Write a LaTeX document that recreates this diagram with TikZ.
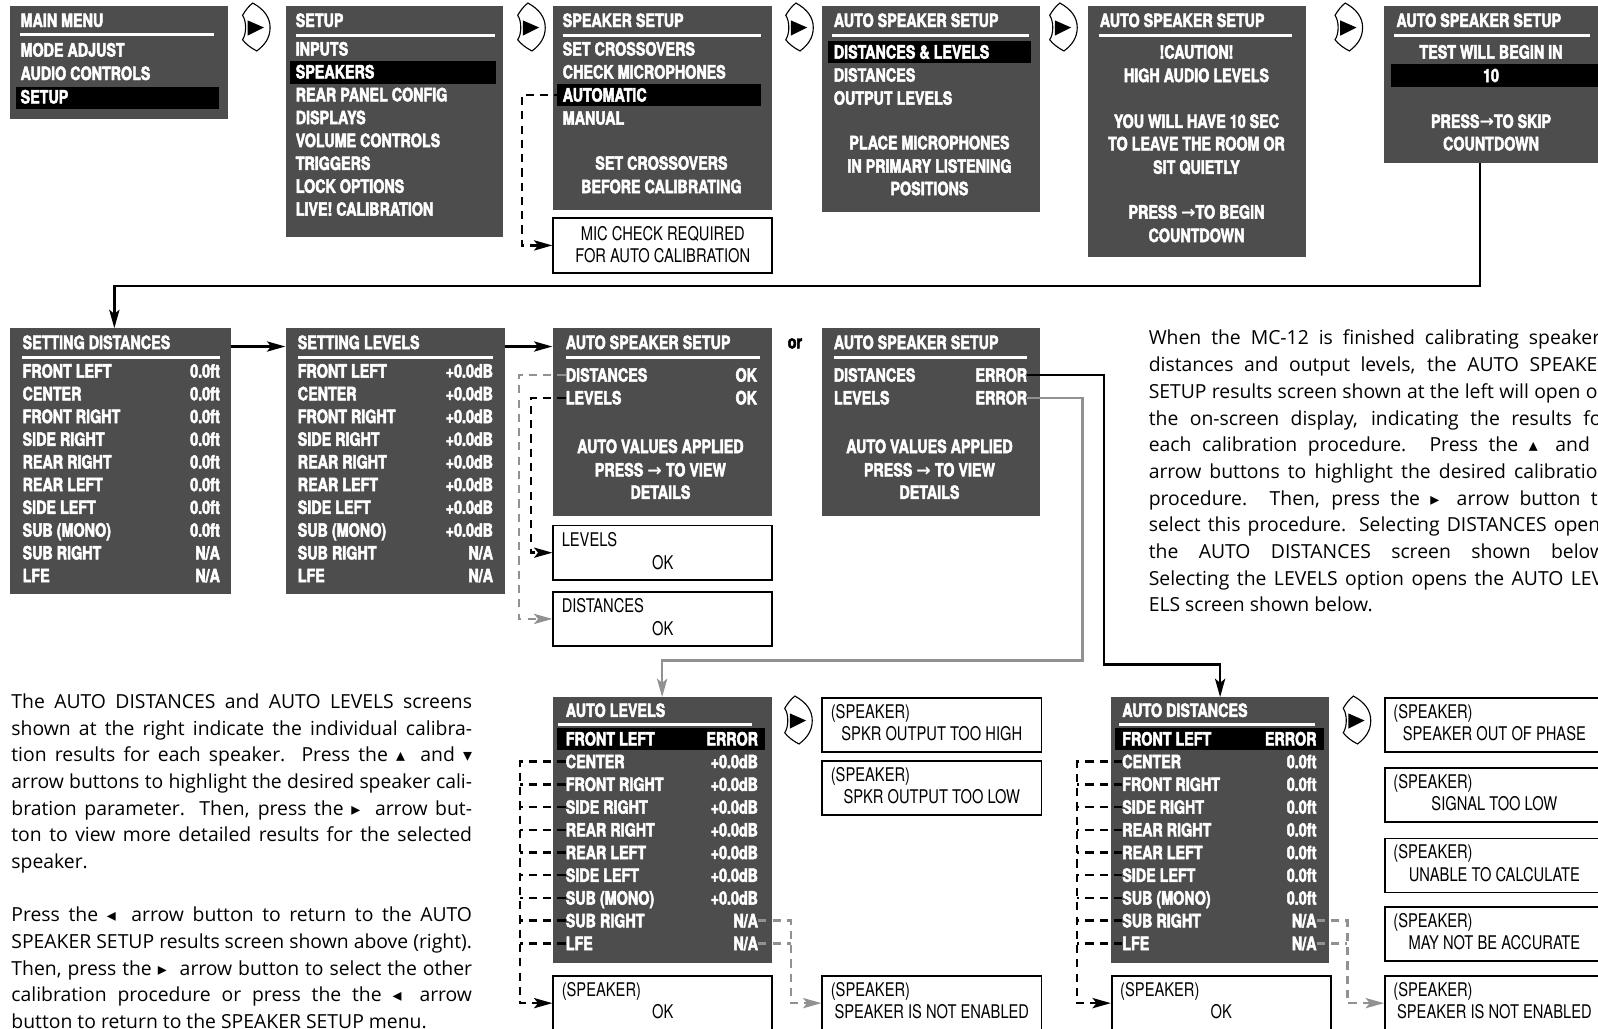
\documentclass[tikz,border=0pt]{standalone}
\usepackage{fontspec}
\setmainfont{Open Sans}
\newfontfamily\heroscn[FakeStretch=0.78,BoldFeatures={FakeBold=2.6}]{TeX Gyre Heros}
\newfontfamily\trifont{DejaVu Sans}
\usetikzlibrary{positioning,arrows.meta}
\definecolor{scrgray}{RGB}{77,77,77}
\definecolor{lnkgray}{RGB}{145,145,145}
\newcommand{\upkey}{{\trifont\fontsize{17.5}{17.5}\selectfont ▴}}
\newcommand{\dnkey}{{\trifont\fontsize{17.5}{17.5}\selectfont ▾}}
\newcommand{\rtkey}{{\trifont\fontsize{17.5}{17.5}\selectfont ▸}}
\newcommand{\ltkey}{{\trifont\fontsize{17.5}{17.5}\selectfont ◂}}
\newcommand{\rarr}{{\trifont\fontsize{17}{17}\selectfont →}}
\newcommand{\spkrows}{FRONT LEFT, CENTER, FRONT RIGHT, SIDE RIGHT, REAR RIGHT, REAR LEFT, SIDE LEFT, SUB (MONO), SUB RIGHT, LFE}

\tikzset{navkey/.pic={
    \draw[line width=1.1pt, fill=white] (-3,-24) .. controls (8,-18) and (14,-10) .. (14,0)
      .. controls (14,10) and (9,17) .. (1,23)
      .. controls (-5,20) and (-10,16) .. (-13,12)
      .. controls (-9,6) and (-9,-6) .. (-13,-12)
      .. controls (-10,-17) and (-7,-21) .. (-3,-24) -- cycle;
    \fill (-8,-7) -- (-8,8) -- (8,0) -- cycle;
}}

\begin{document}
\begin{tikzpicture}[x=1pt, y=-1pt,
        screen/.style={fill=scrgray, inner sep=0, anchor=north west},
        msgbox/.style={draw, line width=1.6pt, fill=white, inner sep=0, anchor=north west,
                    minimum width=215pt, minimum height=53pt},
        stxt/.style={text=white, inner sep=0, font=\heroscn\bfseries\fontsize{18}{20}\selectfont,
                    text height=13pt, text depth=0pt},
        sitem/.style={stxt, anchor=west},
        sval/.style={stxt, anchor=east},
        mtxt/.style={inner sep=0, font=\heroscn\fontsize{18.5}{20}\selectfont,
                    text height=13.3pt, text depth=0pt},
        body/.style={inner sep=0, anchor=base west, font=\fontsize{19}{26}\selectfont},
        srule/.style={white, line width=2.5pt},
        selbar/.style={fill=black},
        flow/.style={-{Stealth[length=18pt,width=10pt,inset=4pt]}, line width=2.4pt},
        dflow/.style={flow, dash pattern=on 8pt off 6pt},
        dstub/.style={line width=2.4pt, dash pattern=on 8pt off 6pt},
        gflow/.style={flow, lnkgray},
        gdflow/.style={dflow, lnkgray},
        gdstub/.style={dstub, lnkgray}
    ]
    \useasboundingbox (0,0) rectangle (1568,1009);
    \clip (0,0) rectangle (1568,1009);
    \fill[white] (0,0) rectangle (1568,1009);

    % Top row -- menus
    \node[screen, minimum width=214pt, minimum height=111pt] (mainmenu) at (10,6) {};
    \fill[selbar] (16,85) rectangle (215,107);
    \draw[srule] (20,34) -- (210,34);
    \node[sitem] (mmtitle) at (20,20) {MAIN MENU};
    \foreach \t [count=\i] in {MODE ADJUST, AUDIO CONTROLS, SETUP}
        \node[sitem] (mm\i) at (20,{49+23*(\i-1)}) {\t};

    \node[screen, minimum width=213pt, minimum height=226pt] (setup) at (280,6) {};
    \fill[selbar] (285,60) rectangle (487,82);
    \draw[srule] (290,35) -- (486,35);
    \node[sitem] (sutitle) at (290,20) {SETUP};
    \foreach \t [count=\i] in {INPUTS, SPEAKERS, REAR PANEL CONFIG, DISPLAYS, VOLUME CONTROLS,
            TRIGGERS, LOCK OPTIONS, LIVE! CALIBRATION}
        \node[sitem] (su\i) at (290,{48+22.45*(\i-1)}) {\t};

    \node[screen, minimum width=215pt, minimum height=200pt] (spksetup) at (542,6) {};
    \fill[selbar] (547,82) rectangle (747,104);
    \draw[srule] (552,35) -- (747,35);
    \node[sitem] (sstitle) at (552,20) {SPEAKER SETUP};
    \foreach \t [count=\i] in {SET CROSSOVERS, CHECK MICROPHONES, AUTOMATIC, MANUAL}
        \node[sitem] (ss\i) at (552,{48+22.6*(\i-1)}) {\t};
    \node[stxt] (ssnote1) at (649,160) {SET CROSSOVERS};
    \node[stxt] (ssnote2) at (649,183) {BEFORE CALIBRATING};

    \node[msgbox, minimum height=54pt] (mic) at (542,213) {};
    \node[mtxt] (mic1) at ([yshift=-16pt]mic.north) {MIC CHECK REQUIRED};
    \node[mtxt] (mic2) at ([yshift=-38pt]mic.north) {FOR AUTO CALIBRATION};

    \node[screen, minimum width=214pt, minimum height=202pt] (asetup) at (806,6) {};
    \fill[selbar] (812,40) rectangle (1012,62);
    \draw[srule] (816,35) -- (1010,35);
    \node[sitem] (astitle) at (818,20) {AUTO SPEAKER SETUP};
    \foreach \t [count=\i] in {DISTANCES \& LEVELS, DISTANCES, OUTPUT LEVELS}
        \node[sitem] (as\i) at (818,{51+22.6*(\i-1)}) {\t};
    \node[stxt] (asnote1) at (912,140) {PLACE MICROPHONES};
    \node[stxt] (asnote2) at (912,163) {IN PRIMARY LISTENING};
    \node[stxt] (asnote3) at (912,185) {POSITIONS};

    \node[screen, minimum width=214pt, minimum height=246pt] (caution) at (1067,6) {};
    \draw[srule] (1078,35) -- (1268,35);
    \node[sitem] (catitle) at (1079,20) {AUTO SPEAKER SETUP};
    \foreach \t/\yy [count=\i] in {!CAUTION!/51, HIGH AUDIO LEVELS/74, YOU WILL HAVE 10 SEC/119,
            TO LEAVE THE ROOM OR/141, SIT QUIETLY/164, PRESS \rarr TO BEGIN/208, COUNTDOWN/231}
        \node[stxt] (ca\i) at (1174,\yy) {\t};

    \node[screen, minimum width=214pt, minimum height=154pt] (test) at (1358,6) {};
    \fill[selbar] (1365,63) rectangle (1575,85);
    \draw[srule] (1368,35) -- (1560,35);
    \node[sitem] (tetitle) at (1370,20) {AUTO SPEAKER SETUP};
    \foreach \t/\yy [count=\i] in {TEST WILL BEGIN IN/51, 10/74, PRESS\rarr TO SKIP/119, COUNTDOWN/141}
        \node[stxt] (te\i) at (1463,\yy) {\t};

    % Navigation keys
    \foreach \kx/\ky in {251/27, 521/27, 784/27, 1043/27, 1323/27, 783/707, 1331/707}
        \pic at (\kx,\ky) {navkey};

    % Middle row -- calibration screens
    \node[screen, minimum width=216pt, minimum height=261pt] (setdist) at (10,322) {};
    \draw[srule] (22,351) -- (216,351);
    \node[sitem] (sdtitle) at (22,336) {SETTING DISTANCES};
    \foreach \t [count=\i] in \spkrows {
        \node[sitem] (sd\i) at (22,{364+22.3*(\i-1)}) {\t};
        \node[sval] (sdv\i) at (216,{364+22.3*(\i-1)}) {\ifnum\i>8 N/A\else 0.0ft\fi};
    }

    \node[screen, minimum width=215pt, minimum height=261pt] (setlev) at (280,322) {};
    \draw[srule] (292,351) -- (484,351);
    \node[sitem] (sltitle) at (292,336) {SETTING LEVELS};
    \foreach \t [count=\i] in \spkrows {
        \node[sitem] (sl\i) at (292,{364+22.3*(\i-1)}) {\t};
        \node[sval] (slv\i) at (484,{364+22.3*(\i-1)}) {\ifnum\i>8 N/A\else +0.0dB\fi};
    }

    \node[screen, minimum width=215pt, minimum height=184pt] (resok) at (542,322) {};
    \draw[srule] (555,351) -- (746,351);
    \node[sitem] (rotitle) at (555,336) {AUTO SPEAKER SETUP};
    \foreach \t [count=\i] in {DISTANCES, LEVELS} {
        \node[sitem] (ro\i) at (555,{368+22.3*(\i-1)}) {\t};
        \node[sval] (rov\i) at (743,{368+22.3*(\i-1)}) {OK};
    }
    \node[stxt] (ronote1) at (648,438) {AUTO VALUES APPLIED};
    \node[stxt] (ronote2) at (648,461) {PRESS \rarr{} TO VIEW};
    \node[stxt] (ronote3) at (648,483) {DETAILS};

    \node[font=\heroscn\bfseries\fontsize{18}{20}\selectfont, inner sep=0] (ortxt) at (780,337) {or};

    \node[screen, minimum width=214pt, minimum height=184pt] (reserr) at (806,322) {};
    \draw[srule] (818,351) -- (1008,351);
    \node[sitem] (retitle) at (818,336) {AUTO SPEAKER SETUP};
    \foreach \t [count=\i] in {DISTANCES, LEVELS} {
        \node[sitem] (re\i) at (818,{368+22.3*(\i-1)}) {\t};
        \node[sval] (rev\i) at (1008,{368+22.3*(\i-1)}) {ERROR};
    }
    \node[stxt] (renote1) at (912,438) {AUTO VALUES APPLIED};
    \node[stxt] (renote2) at (912,461) {PRESS \rarr{} TO VIEW};
    \node[stxt] (renote3) at (912,483) {DETAILS};

    \node[msgbox] (levok) at (542,515) {};
    \node[mtxt, anchor=west] (levok1) at ([xshift=9pt,yshift=-15pt]levok.north west) {LEVELS};
    \node[mtxt] (levok2) at ([yshift=-37pt]levok.north) {OK};
    \node[msgbox] (distok) at (542,580) {};
    \node[mtxt, anchor=west] (distok1) at ([xshift=9pt,yshift=-14pt]distok.north west) {DISTANCES};
    \node[mtxt] (distok2) at ([yshift=-37pt]distok.north) {OK};

    % Bottom row -- per speaker results
    \node[screen, minimum width=215pt, minimum height=261pt] (autolev) at (542,684) {};
    \fill[selbar] (547,714) rectangle (751,736);
    \draw[srule] (548,711) -- (738,711);
    \node[sitem] (altitle) at (555,697) {AUTO LEVELS};
    \foreach \t [count=\i] in \spkrows {
        \node[sitem] (al\i) at (555,{725+22.3*(\i-1)}) {\t};
        \node[sval] (alv\i) at (744,{725+22.3*(\i-1)})
            {\ifnum\i=1 ERROR\else\ifnum\i>8 N/A\else +0.0dB\fi\fi};
    }

    \node[screen, minimum width=214pt, minimum height=261pt] (autodist) at (1090,684) {};
    \fill[selbar] (1094,714) rectangle (1299,736);
    \draw[srule] (1098,711) -- (1290,711);
    \node[sitem] (adtitle) at (1101,697) {AUTO DISTANCES};
    \foreach \t [count=\i] in \spkrows {
        \node[sitem] (ad\i) at (1101,{725+22.3*(\i-1)}) {\t};
        \node[sval] (adv\i) at (1292,{725+22.3*(\i-1)})
            {\ifnum\i=1 ERROR\else\ifnum\i>8 N/A\else 0.0ft\fi\fi};
    }

    \foreach \nm/\bx/\by/\msg in {alhigh/806/684/{SPKR OUTPUT TOO HIGH}, allow/806/746/{SPKR OUTPUT TOO LOW},
            alok/542/957/OK, aldis/806/957/{SPEAKER IS NOT ENABLED}, adok/1090/957/OK,
            adphase/1358/684/{SPEAKER OUT OF PHASE}, adlow/1358/753/{SIGNAL TOO LOW},
            adcalc/1358/822/{UNABLE TO CALCULATE}, adacc/1358/889/{MAY NOT BE ACCURATE},
            addis/1358/957/{SPEAKER IS NOT ENABLED}} {
        \node[msgbox] (\nm) at (\bx,\by) {};
        \node[mtxt, anchor=west] (\nm-a) at ([xshift=9pt,yshift=-14pt]\nm.north west) {(SPEAKER)};
        \node[mtxt] (\nm-b) at ([yshift=-36pt]\nm.north) {\msg};
    }

    % Connectors
    \draw[dflow] (ss3.west) -- ++(-40,0) |- (mic.west);
    \draw[flow] ([xshift=-13pt]test.south) -- ++(0,120) -| ([xshift=-6pt]setdist.north);
    \draw[flow] ([yshift=-18pt]setdist.north east) -- ([yshift=-18pt]setlev.north west);
    \draw[flow] ([yshift=-18pt]setlev.north east) -- ([yshift=-18pt]resok.north west);
    \draw[gdflow] (ro1.west) -- ++(-46,0) |- (distok.west);
    \draw[dflow] (ro2.west) -- ++(-34,0) |- (levok.west);
    \draw[flow] (rev1.east) -- ++(75,0) |- ([yshift=32pt]autodist.north) -- (autodist.north);
    \draw[gflow] (rev2.east) -- ++(54,0) |- ([yshift=36pt]autolev.north) -- (autolev.north);

    \coordinate (alx) at (510,0);
    \coordinate (algx) at (776,0);
    \coordinate (adx) at (1057,0);
    \coordinate (adgx) at (1322,0);
    \foreach \i in {3,...,10} {
        \draw[dstub] (al\i.west) -- (al\i.west -| alx);
        \draw[dstub] (ad\i.west) -- (ad\i.west -| adx);
    }
    \draw[dflow] (al2.west) -- (al2.west -| alx) |- (alok.west);
    \draw[dflow] (ad2.west) -- (ad2.west -| adx) |- (adok.west);
    \draw[gdstub] (alv10.east) -- (alv10.east -| algx);
    \draw[gdflow] (alv9.east) -- (alv9.east -| algx) |- (aldis.west);
    \draw[gdstub] (adv10.east) -- (adv10.east -| adgx);
    \draw[gdflow] (adv9.east) -- (adv9.east -| adgx) |- (addis.west);

    % Explanatory text
    \foreach \l [count=\i] in {{When the MC-12 is finished calibrating speakers},
            {distances and output levels, the AUTO SPEAKER},
            {SETUP results screen shown at the left will open on},
            {the on-screen display, indicating the results for},
            {each calibration procedure. Press the \upkey\hspace{7pt} and \dnkey},
            {arrow buttons to highlight the desired calibration},
            {procedure. Then, press the \rtkey\hspace{7pt} arrow button to},
            {select this procedure. Selecting DISTANCES opens},
            {the AUTO DISTANCES screen shown below.},
            {Selecting the LEVELS option opens the AUTO LEV-}}
        \node[body] (rt\i) at (1127,{338.5+26.2*(\i-1)}) {\makebox[452pt][s]{\l}};
    \node[body] (rt11) at (1127,{338.5+26.2*10}) {ELS screen shown below.};

    \foreach \l [count=\i] in {{The AUTO DISTANCES and AUTO LEVELS screens},
            {shown at the right indicate the individual calibra-},
            {tion results for each speaker. Press the \upkey\hspace{7pt} and \dnkey},
            {arrow buttons to highlight the desired speaker cali-},
            {bration parameter. Then, press the \rtkey\hspace{7pt} arrow but-},
            {ton to view more detailed results for the selected}}
        \node[body] (lt\i) at (11,{695+26.2*(\i-1)}) {\makebox[452pt][s]{\l}};
    \node[body] (lt7) at (11,852.2) {speaker.};
    \foreach \l [count=\i from 8] in {{Press the \ltkey\hspace{7pt} arrow button to return to the AUTO},
            {SPEAKER SETUP results screen shown above (right).},
            {Then, press the \rtkey\hspace{7pt} arrow button to select the other},
            {calibration procedure or press the the \ltkey\hspace{7pt} arrow}}
        \node[body] (lt\i) at (11,{904.4+26.2*(\i-8)}) {\makebox[452pt][s]{\l}};
    \node[body] (lt12) at (11,{904.4+26.2*4}) {button to return to the SPEAKER SETUP menu.};

\end{tikzpicture}
\end{document}
